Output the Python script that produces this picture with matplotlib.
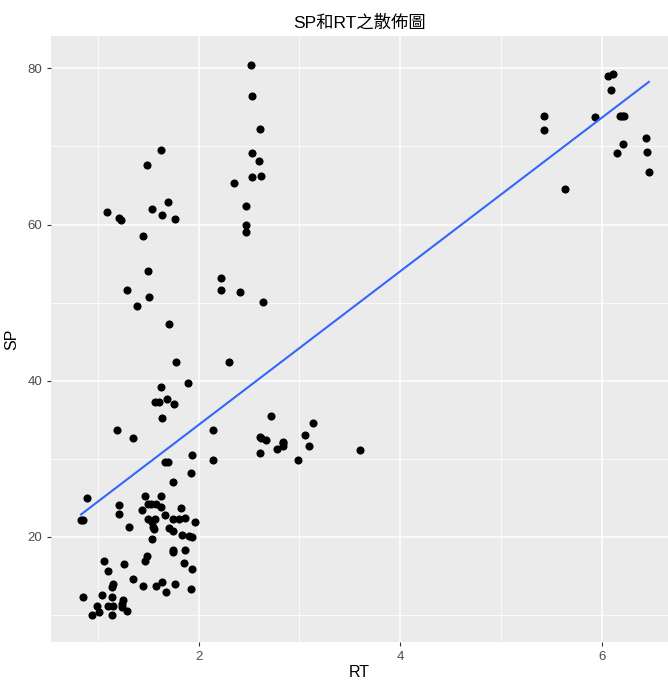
import numpy as np
import matplotlib
matplotlib.use('Agg')
import matplotlib.pyplot as plt

plt.rcParams['font.family'] = ['Liberation Sans', 'Noto Sans CJK TC', 'DejaVu Sans']

# values
rt = [1.745, 0.893, 1.47, 1.626, 1.213, 1.497, 1.53, 1.579, 1.626, 1.438,
      1.824, 1.21, 1.665, 0.834, 0.85, 1.497, 1.572, 1.54, 1.75, 1.804,
      1.863, 1.962, 1.309, 1.55, 1.559, 1.708, 1.748, 1.834, 1.903, 1.939,
      1.537, 1.75, 1.75, 1.866, 1.487, 1.47, 1.853, 1.061, 1.259, 1.104,
      1.936, 1.349, 1.639, 1.45, 1.579, 1.764, 1.144, 1.151, 1.923, 1.675,
      0.853, 1.043, 1.141, 1.25, 0.992, 1.101, 1.15, 1.236, 1.236, 1.012,
      0.943, 1.141, 1.289, 1.78, 2.302, 1.893, 1.629, 1.685, 1.566, 1.606,
      1.757, 1.639, 1.19, 1.349, 2.147, 1.936, 2.141, 1.671, 1.695, 1.923,
      1.626, 1.487, 1.695, 1.54, 1.094, 1.213, 1.23, 1.639, 1.765, 1.45,
      1.497, 2.22, 2.22, 1.292, 1.51, 1.388, 1.711, 2.517, 2.527, 2.606,
      2.527, 2.596, 2.527, 2.616, 2.349, 2.47, 2.47, 2.47, 2.411, 2.64,
      2.715, 3.134, 3.052, 2.606, 2.616, 2.668, 2.837, 2.837, 2.837, 3.091,
      2.774, 2.606, 2.982, 3.606, 6.064, 6.114, 6.091, 5.428, 5.933, 6.18,
      6.2, 6.223, 5.428, 6.437, 6.21, 6.151, 6.447, 6.467, 5.636]
sp = [27.05, 25.0, 25.25, 25.25, 24.06, 24.23, 24.23, 24.23, 23.85, 23.38,
      23.68, 22.95, 22.82, 22.18, 22.18, 22.31, 22.31, 21.89, 22.23, 22.31,
      22.44, 21.93, 21.29, 21.29, 21.03, 21.16, 20.77, 20.26, 20.13, 20.0,
      19.71, 18.34, 18.08, 18.26, 17.49, 16.93, 16.67, 16.93, 16.54, 15.65,
      15.9, 14.62, 14.24, 13.69, 13.69, 13.98, 13.6, 13.98, 13.26, 12.88,
      12.32, 12.57, 12.32, 11.86, 11.16, 11.16, 11.16, 11.38, 10.96, 10.36,
      10.01, 10.01, 10.52, 42.42, 42.42, 39.73, 39.22, 37.68, 37.3, 37.22,
      36.96, 35.25, 33.71, 32.68, 33.71, 30.47, 29.87, 29.61, 29.61, 28.2,
      69.53, 67.65, 62.84, 62.02, 61.63, 60.86, 60.61, 61.25, 60.74, 58.52,
      54.04, 53.1, 51.64, 51.64, 50.74, 49.59, 47.29, 80.46, 76.49, 72.26,
      69.19, 68.09, 66.12, 66.24, 65.35, 62.4, 59.97, 59.07, 51.38, 50.06,
      35.5, 34.6, 32.99, 32.77, 32.68, 32.43, 32.17, 31.97, 31.66, 31.66,
      31.28, 30.77, 29.87, 31.15, 79.05, 79.31, 77.26, 73.93, 73.8, 73.93,
      73.93, 73.93, 72.14, 71.11, 70.3, 69.19, 69.32, 66.76, 64.58]
x_ticks = [2, 4, 6]
y_ticks = [20, 40, 60, 80]

rt = np.array(rt)
sp = np.array(sp)

fig = plt.figure(figsize=(6.68, 6.81), dpi=100)
ax = fig.add_axes([0.0759, 0.0568, 1 - 0.0759, 0.947 - 0.0568])
ax.set_facecolor('#EBEBEB')
for s in ax.spines.values():
    s.set_visible(False)

ax.set_xlim(0.533, 6.657)
ax.set_ylim(6.48, 84.14)
ax.set_xticks(x_ticks)
ax.set_yticks(y_ticks)
ax.set_xticks([1, 3, 5], minor=True)
ax.set_yticks([10, 30, 50, 70], minor=True)
ax.grid(which='major', color='white', linewidth=1.1)
ax.grid(which='minor', color='white', linewidth=0.55)
ax.set_axisbelow(True)
ax.tick_params(which='major', length=3, width=0.8, color='#333333',
               labelcolor='#4D4D4D', labelsize=9.5, pad=3)
ax.tick_params(which='minor', length=0)

ax.scatter(rt, sp, s=34, color='black', zorder=3, linewidths=0)

# linear fit line, like geom_smooth(method='lm', se=FALSE)
k, b = np.polyfit(rt, sp, 1)
xs = np.array([rt.min(), rt.max()])
ax.plot(xs, k * xs + b, color='#3366FF', linewidth=1.5, zorder=4)

ax.set_xlabel('RT', fontsize=11.5, labelpad=2)
ax.set_ylabel('SP', fontsize=11.5, labelpad=6)
ax.set_title('SP和RT之散佈圖', fontsize=12.5, pad=6)

fig.savefig('out.png', dpi=100)
